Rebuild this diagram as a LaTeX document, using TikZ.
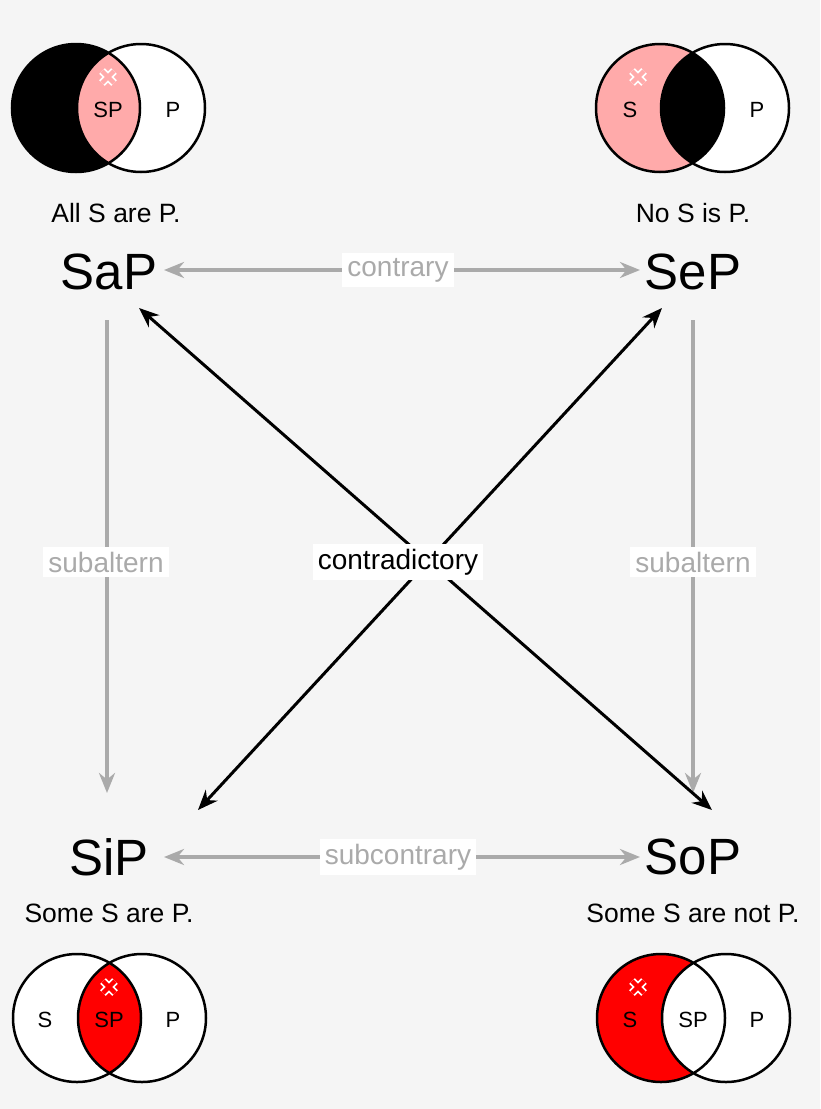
\documentclass[tikz,border=0pt]{standalone}
\usepackage{fontspec}
\setmainfont{Liberation Sans}
\usetikzlibrary{arrows.meta}
\definecolor{bg}{HTML}{F5F5F5}
\definecolor{pink}{HTML}{FFAAAA}
\definecolor{redd}{HTML}{FF0000}
\definecolor{gr}{HTML}{AAAAAA}
\tikzset{
  big/.style={font=\fontsize{51}{53}\selectfont},
  capt/.style={font=\fontsize{26.5}{28}\selectfont},
  rel/.style={font=\fontsize{28}{30}\selectfont,fill=white,inner sep=5pt},
  grl/.style={rel,text=gr},
  small/.style={font=\fontsize{22}{24}\selectfont},
  garr/.style={gr,line width=3.5pt,{Stealth[length=20pt,width=16pt]}-{Stealth[length=20pt,width=16pt]},shorten <=2pt,shorten >=2pt},
  garr1/.style={gr,line width=3.5pt,-{Stealth[length=20pt,width=16pt]}},
  barr/.style={black,line width=3pt,{Stealth[length=20pt,width=16pt]}-{Stealth[length=20pt,width=16pt]}},
  circ/.style={line width=2.5pt},
}
\newcommand{\xmk}[3]{%
 \draw[white,line width=8pt] (#1-6,#2-6)--(#1+6,#2+6) (#1-6,#2+6)--(#1+6,#2-6);
 \draw[#3,line width=4.5pt] (#1-6,#2-6)--(#1+6,#2+6) (#1-6,#2+6)--(#1+6,#2-6);}
\begin{document}
\begin{tikzpicture}[x=1pt,y=-1pt]
\fill[bg] (0,0) rectangle (820,1109);
\useasboundingbox (0,0) rectangle (820,1109);
% top-left: All S are P
\fill[white] (141,108) circle (64);
\fill[black] (76,108) circle (64);
\begin{scope}\clip (76,108) circle (64); \fill[pink] (141,108) circle (64);\end{scope}
\draw[circ] (76,108) circle (64) (141,108) circle (64);
\xmk{108}{77}{pink}
\node[small] (vaSP) at (108,110) {SP};
\node[small] (vaP) at (173,110) {P};
% top-right: No S is P
\fill[white] (725,108) circle (64);
\fill[pink] (660,108) circle (64);
\begin{scope}\clip (660,108) circle (64); \fill[black] (725,108) circle (64);\end{scope}
\draw[circ] (660,108) circle (64) (725,108) circle (64);
\xmk{638}{77}{pink}
\node[small] (veS) at (630,110) {S};
\node[small] (veP) at (757,110) {P};
% bottom-left: Some S are P
\fill[white] (77,1018) circle (64) (142,1018) circle (64);
\begin{scope}\clip (77,1018) circle (64); \fill[redd] (142,1018) circle (64);\end{scope}
\draw[circ] (77,1018) circle (64) (142,1018) circle (64);
\xmk{109}{987}{redd}
\node[small] (viS) at (45,1020) {S};
\node[small] (viSP) at (109,1020) {SP};
\node[small] (viP) at (173,1020) {P};
% bottom-right: Some S are not P
\fill[white] (726,1018) circle (64);
\fill[redd] (661,1018) circle (64);
\begin{scope}\clip (661,1018) circle (64); \fill[white] (726,1018) circle (64);\end{scope}
\draw[circ] (661,1018) circle (64) (726,1018) circle (64);
\xmk{638}{987}{redd}
\node[small] (voS) at (630,1020) {S};
\node[small] (voSP) at (693,1020) {SP};
\node[small] (voP) at (757,1020) {P};
% captions
\node[capt] (ca) at (116,213) {All S are P.};
\node[capt] (ce) at (693,213) {No S is P.};
\node[capt] (ci) at (109,913) {Some S are P.};
\node[capt] (co) at (693,913) {Some S are not P.};
% main nodes
\node[big] (a) at (109,272) {SaP};
\node[big] (e) at (693,272) {SeP};
\node[big] (i) at (109,857) {SiP};
\node[big] (o) at (693,857) {SoP};
\coordinate (a1) at (162,270); \coordinate (e1) at (642,270);
\coordinate (i1) at (162,857); \coordinate (o1) at (642,857);
\coordinate (a2) at (107,320); \coordinate (i2) at (107,793);
\coordinate (e2) at (693,320); \coordinate (o2) at (693,793);
\coordinate (ad) at (139,308); \coordinate (od) at (712,810);
\coordinate (ed) at (662,308); \coordinate (id) at (198,810);
\draw[garr] (a1)--(e1);
\draw[garr] (i1)--(o1);
\draw[garr1] (a2)--(i2);
\draw[garr1] (e2)--(o2);
\draw[barr] (ad)--(od);
\draw[barr] (ed)--(id);
\node[grl] (lc) at (398,270) {contrary};
\node[grl] (lsc) at (398,857) {subcontrary};
\node[grl] (ls1) at (106,562) {subaltern};
\node[grl] (ls2) at (693,562) {subaltern};
\node[rel] (lcd) at (398,562) {contradictory};
\end{tikzpicture}
\end{document}
